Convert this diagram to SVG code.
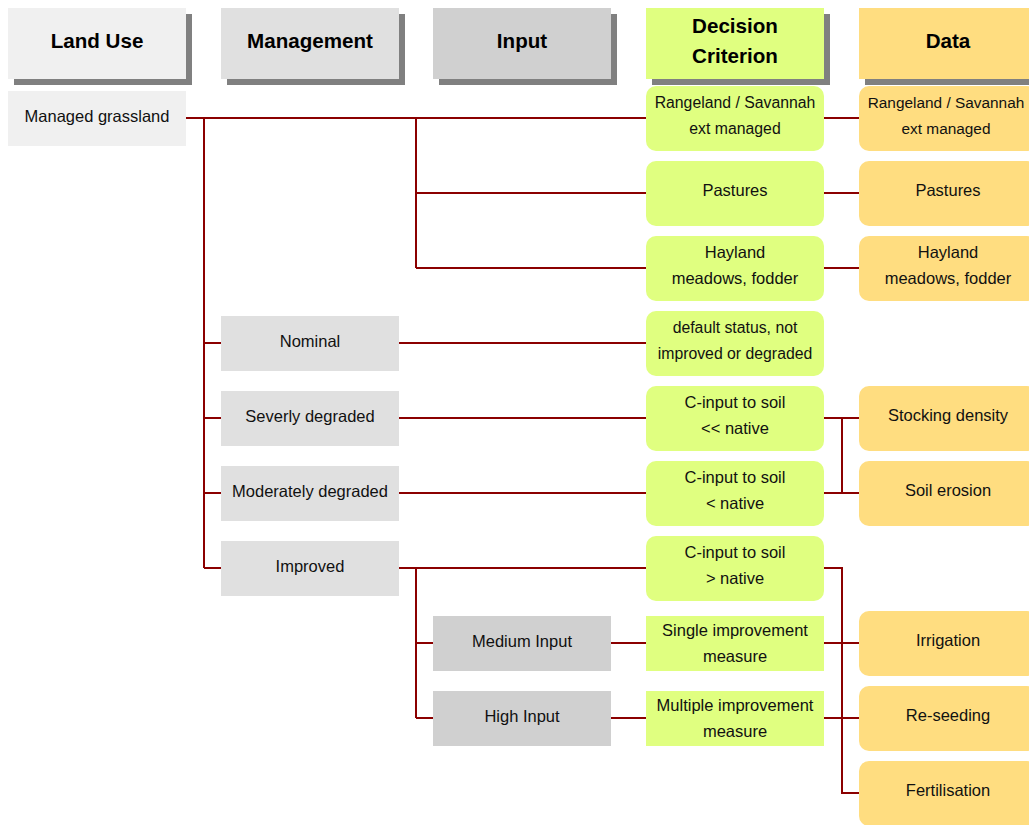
<svg xmlns="http://www.w3.org/2000/svg" width="1029" height="825" viewBox="0 0 1029 825">
  <style>
    .hdr { font-family: "Liberation Sans", Arial, sans-serif; font-size: 20.6px; font-weight: bold; fill: #000; text-anchor: middle; }
    .lbl { font-family: "Liberation Sans", Arial, sans-serif; font-size: 16.5px; fill: #111; text-anchor: middle; }
    .sm { font-size: 15.8px; }
    .xs { font-size: 15.4px; }
    .shadow { fill: #808080; }
    .landuse { fill: #f0f0f0; }
    .mgmt { fill: #e0e0e0; }
    .input { fill: #d0d0d0; }
    .crit { fill: #e0ff80; }
    .data { fill: #ffdd80; }
    .conn { fill: none; stroke: #8b0000; stroke-width: 2; }
  </style>
  <rect width="1029" height="825" fill="#ffffff"/>

  <!-- column headers with drop shadows -->
  <g id="hdr-landuse">
    <rect class="shadow" x="14" y="14" width="178" height="71"/>
    <rect class="landuse" x="8" y="8" width="178" height="71"/>
    <text class="hdr" x="97" y="48">Land Use</text>
  </g>
  <g id="hdr-management">
    <rect class="shadow" x="227" y="14" width="178" height="71"/>
    <rect class="mgmt" x="221" y="8" width="178" height="71"/>
    <text class="hdr" x="310" y="48">Management</text>
  </g>
  <g id="hdr-input">
    <rect class="shadow" x="439" y="14" width="178" height="71"/>
    <rect class="input" x="433" y="8" width="178" height="71"/>
    <text class="hdr" x="522" y="48">Input</text>
  </g>
  <g id="hdr-criterion">
    <rect class="shadow" x="652" y="14" width="178" height="71"/>
    <rect class="crit" x="646" y="8" width="178" height="71"/>
    <text class="hdr" x="735" y="33">Decision</text>
    <text class="hdr" x="735" y="63">Criterion</text>
  </g>
  <g id="hdr-data">
    <rect class="shadow" x="865" y="14" width="178" height="71"/>
    <rect class="data" x="859" y="8" width="178" height="71"/>
    <text class="hdr" x="948" y="48">Data</text>
  </g>

  <!-- connectors -->
  <g id="connectors">
    <!-- land use to criteria -->
    <path class="conn" d="M186 118 H646 M416 118 V268 M416 193 H646 M416 268 H646"/>
    <!-- land use to management -->
    <path class="conn" d="M204 118 V568 M204 343 H221 M204 418 H221 M204 493 H221 M204 568 H221"/>
    <!-- management to criteria -->
    <path class="conn" d="M399 343 H646 M399 418 H646 M399 493 H646 M399 568 H646"/>
    <!-- improved to inputs -->
    <path class="conn" d="M416 568 V718 M416 643 H433 M416 718 H433 M611 643 H646 M611 718 H646"/>
    <!-- criteria to data -->
    <path class="conn" d="M824 118 H859 M824 193 H859 M824 268 H859"/>
    <path class="conn" d="M824 418 H859 M824 493 H859 M842 418 V493"/>
    <path class="conn" d="M824 568 H842 V793 H859 M824 643 H859 M824 718 H859"/>
  </g>

  <!-- land use -->
  <g id="n-managed-grassland">
    <rect class="landuse" x="8" y="91" width="178" height="55"/>
    <text class="lbl" x="97" y="122">Managed grassland</text>
  </g>

  <!-- management -->
  <g id="n-nominal">
    <rect class="mgmt" x="221" y="316" width="178" height="55"/>
    <text class="lbl" x="310" y="347">Nominal</text>
  </g>
  <g id="n-severely">
    <rect class="mgmt" x="221" y="391" width="178" height="55"/>
    <text class="lbl" x="310" y="422">Severly degraded</text>
  </g>
  <g id="n-moderately">
    <rect class="mgmt" x="221" y="466" width="178" height="55"/>
    <text class="lbl" x="310" y="497">Moderately degraded</text>
  </g>
  <g id="n-improved">
    <rect class="mgmt" x="221" y="541" width="178" height="55"/>
    <text class="lbl" x="310" y="572">Improved</text>
  </g>

  <!-- input -->
  <g id="n-medium-input">
    <rect class="input" x="433" y="616" width="178" height="55"/>
    <text class="lbl" x="522" y="647">Medium Input</text>
  </g>
  <g id="n-high-input">
    <rect class="input" x="433" y="691" width="178" height="55"/>
    <text class="lbl" x="522" y="722">High Input</text>
  </g>

  <!-- decision criteria -->
  <g id="c-rangeland">
    <rect class="crit" x="646" y="86" width="178" height="65" rx="10"/>
    <text class="lbl sm" x="735" y="108">Rangeland / Savannah</text>
    <text class="lbl sm" x="735" y="134">ext managed</text>
  </g>
  <g id="c-pastures">
    <rect class="crit" x="646" y="161" width="178" height="65" rx="10"/>
    <text class="lbl" x="735" y="196">Pastures</text>
  </g>
  <g id="c-hayland">
    <rect class="crit" x="646" y="236" width="178" height="65" rx="10"/>
    <text class="lbl" x="735" y="258">Hayland</text>
    <text class="lbl" x="735" y="284">meadows, fodder</text>
  </g>
  <g id="c-default">
    <rect class="crit" x="646" y="311" width="178" height="65" rx="10"/>
    <text class="lbl sm" x="735" y="333">default status, not</text>
    <text class="lbl sm" x="735" y="359">improved or degraded</text>
  </g>
  <g id="c-cinput-much-less">
    <rect class="crit" x="646" y="386" width="178" height="65" rx="10"/>
    <text class="lbl" x="735" y="408">C-input to soil</text>
    <text class="lbl" x="735" y="434">&lt;&lt; native</text>
  </g>
  <g id="c-cinput-less">
    <rect class="crit" x="646" y="461" width="178" height="65" rx="10"/>
    <text class="lbl" x="735" y="483">C-input to soil</text>
    <text class="lbl" x="735" y="509">&lt; native</text>
  </g>
  <g id="c-cinput-more">
    <rect class="crit" x="646" y="536" width="178" height="65" rx="10"/>
    <text class="lbl" x="735" y="558">C-input to soil</text>
    <text class="lbl" x="735" y="584">&gt; native</text>
  </g>
  <g id="c-single">
    <rect class="crit" x="646" y="616" width="178" height="55"/>
    <text class="lbl" x="735" y="636">Single improvement</text>
    <text class="lbl" x="735" y="662">measure</text>
  </g>
  <g id="c-multiple">
    <rect class="crit" x="646" y="691" width="178" height="55"/>
    <text class="lbl" x="735" y="711">Multiple improvement</text>
    <text class="lbl" x="735" y="737">measure</text>
  </g>

  <!-- data -->
  <g id="d-rangeland">
    <rect class="data" x="859" y="86" width="178" height="65" rx="10"/>
    <text class="lbl xs" x="946" y="108">Rangeland / Savannah</text>
    <text class="lbl xs" x="946" y="134">ext managed</text>
  </g>
  <g id="d-pastures">
    <rect class="data" x="859" y="161" width="178" height="65" rx="10"/>
    <text class="lbl" x="948" y="196">Pastures</text>
  </g>
  <g id="d-hayland">
    <rect class="data" x="859" y="236" width="178" height="65" rx="10"/>
    <text class="lbl" x="948" y="258">Hayland</text>
    <text class="lbl" x="948" y="284">meadows, fodder</text>
  </g>
  <g id="d-stocking">
    <rect class="data" x="859" y="386" width="178" height="65" rx="10"/>
    <text class="lbl" x="948" y="421">Stocking density</text>
  </g>
  <g id="d-erosion">
    <rect class="data" x="859" y="461" width="178" height="65" rx="10"/>
    <text class="lbl" x="948" y="496">Soil erosion</text>
  </g>
  <g id="d-irrigation">
    <rect class="data" x="859" y="611" width="178" height="65" rx="10"/>
    <text class="lbl" x="948" y="646">Irrigation</text>
  </g>
  <g id="d-reseeding">
    <rect class="data" x="859" y="686" width="178" height="65" rx="10"/>
    <text class="lbl" x="948" y="721">Re-seeding</text>
  </g>
  <g id="d-fertilisation">
    <rect class="data" x="859" y="761" width="178" height="65" rx="10"/>
    <text class="lbl" x="948" y="796">Fertilisation</text>
  </g>
</svg>
